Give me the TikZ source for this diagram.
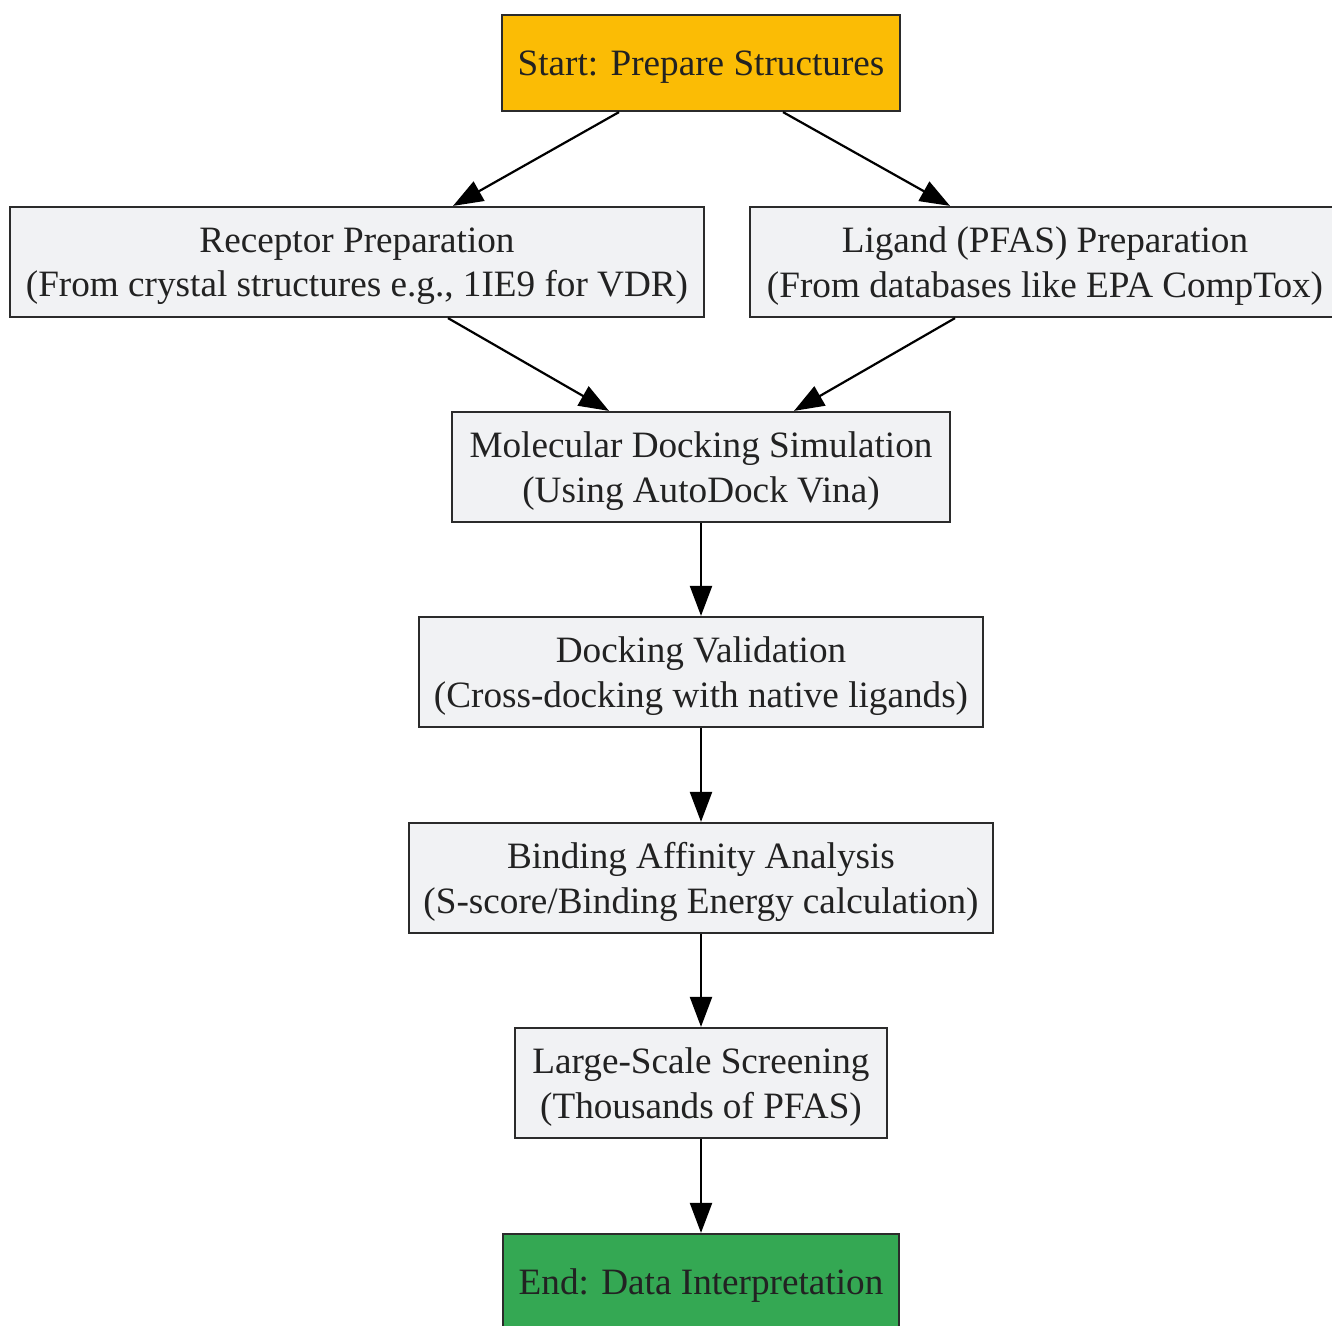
\documentclass[tikz,border=0pt]{standalone}
\usepackage{fontspec}
\setmainfont{Liberation Serif}
\usetikzlibrary{arrows.meta}
\definecolor{boxfill}{HTML}{F1F2F4}
\definecolor{boxline}{HTML}{2B2B2B}
\definecolor{txt}{HTML}{222222}
\definecolor{startfill}{HTML}{FBBC05}
\definecolor{endfill}{HTML}{34A853}

\begin{document}
\begin{tikzpicture}[x=1pt,y=-1pt,
    box/.style={draw=boxline, fill=boxfill, rectangle, line width=2.2pt, inner sep=0pt,
        minimum height=110pt, align=center, text=txt, text depth=0pt,
        font=\fontsize{37.2}{44.4}\selectfont},
    startbox/.style={box, fill=startfill, minimum height=96pt},
    endbox/.style={box, fill=endfill, minimum height=96pt},
    flow/.style={line width=2.2pt, -{Triangle[length=30pt,width=22pt]}}]
    \useasboundingbox (0,0) rectangle (1332,1325);
    \clip (0,0) rectangle (1332,1325);
    % Nodes
    \node[startbox, minimum width=398pt] (start) at (701,63) {Start: Prepare Structures};
    \node[box, minimum width=694pt] (receptor) at (357,262) {Receptor Preparation\\(From crystal structures e.g., 1IE9 for VDR)};
    \node[box, minimum width=590pt] (ligand) at (1045,262) {Ligand (PFAS) Preparation\\(From databases like EPA CompTox)};
    \node[box, minimum width=498pt] (docking) at (701,467) {Molecular Docking Simulation\\(Using AutoDock Vina)};
    \node[box, minimum width=564pt] (validation) at (701,672) {Docking Validation\\(Cross-docking with native ligands)};
    \node[box, minimum width=584pt] (affinity) at (701,878) {Binding Affinity Analysis\\(S-score/Binding Energy calculation)};
    \node[box, minimum width=372pt] (screening) at (701,1083) {Large-Scale Screening\\(Thousands of PFAS)};
    \node[endbox, minimum width=396pt] (end) at (701,1282) {End: Data Interpretation};

    % Edges
    \draw[flow] ([xshift=-82pt]start.south) -- ([xshift=96pt]receptor.north);
    \draw[flow] ([xshift=82pt]start.south) -- ([xshift=-95pt]ligand.north);
    \draw[flow] ([xshift=91pt]receptor.south) -- ([xshift=-92pt]docking.north);
    \draw[flow] ([xshift=-90pt]ligand.south) -- ([xshift=93pt]docking.north);
    \draw[flow] (docking) -- (validation);
    \draw[flow] (validation) -- (affinity);
    \draw[flow] (affinity) -- (screening);
    \draw[flow] (screening) -- (end);
\end{tikzpicture}
\end{document}
